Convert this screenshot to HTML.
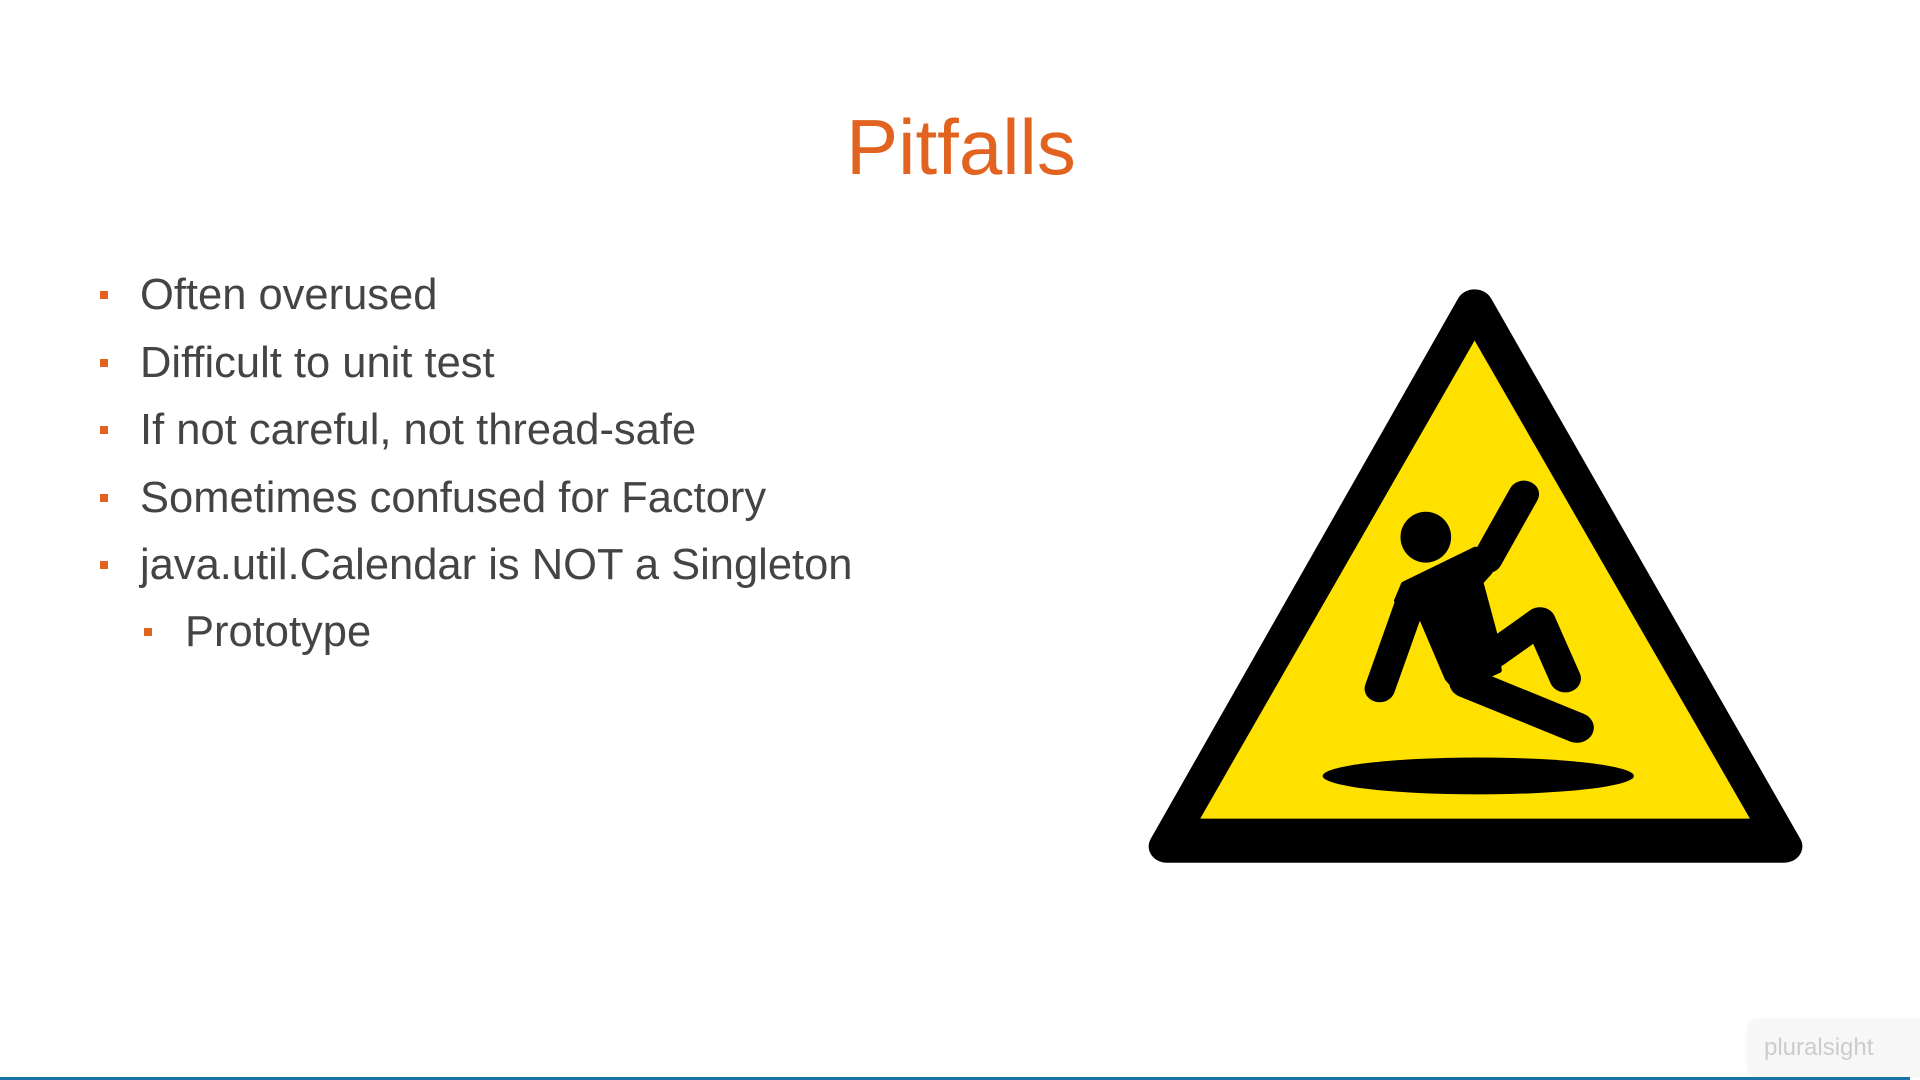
<!DOCTYPE html>
<html><head><meta charset="utf-8"><style>
html,body{margin:0;padding:0;width:1920px;height:1080px;overflow:hidden;background:#fff;font-family:"Liberation Sans",sans-serif}
.title{position:absolute;left:0;width:1922px;top:102px;text-align:center;font-size:78px;color:#E2621F}
.li{position:absolute;left:140px;font-size:43.5px;color:#444;white-space:nowrap}
.b{position:absolute;width:8px;height:8px;background:#E2621F}
</style></head><body>
<div class="title">Pitfalls</div>
<div>
<div class="b" style="left:100px;top:291px"></div>
<div class="li" style="top:271px">Often overused</div>
<div class="b" style="left:100px;top:359px"></div>
<div class="li" style="top:339px">Difficult to unit test</div>
<div class="b" style="left:100px;top:426px"></div>
<div class="li" style="top:406px">If not careful, not thread-safe</div>
<div class="b" style="left:100px;top:494px"></div>
<div class="li" style="top:474px">Sometimes confused for Factory</div>
<div class="b" style="left:100px;top:561px"></div>
<div class="li" style="top:541px">java.util.Calendar is NOT a Singleton</div>
<div class="b" style="left:144px;top:628px"></div>
<div class="li" style="left:185px;top:608px">Prototype</div>
</div>
<svg width="1920" height="1080" style="position:absolute;left:0;top:0">
<g transform="translate(1098,248.4) scale(0.4604,0.4096)">
<polygon points="818,140 150,1460 1490,1460" fill="#000" stroke="#000" stroke-width="80" stroke-linejoin="round"/>
<polygon points="818,225 222,1392 1416,1392" fill="#FFE100"/>
<g fill="#000" stroke="#000" stroke-linecap="round" stroke-linejoin="round">
<ellipse cx="712" cy="705" rx="55" ry="62" stroke="none"/>
<line x1="845" y1="760" x2="925" y2="600" stroke-width="66"/>
<polygon points="665,820 820,735 850,790 830,815 860,940 870,1030 780,1075 760,1050 705,905 650,860" stroke-width="14"/>
<line x1="612" y1="1075" x2="680" y2="860" stroke-width="66"/>
<line x1="800" y1="1060" x2="1040" y2="1170" stroke-width="74"/>
<polyline points="860,990 960,910 1015,1050" fill="none" stroke-width="68"/>
</g>
<ellipse cx="826" cy="1288" rx="338" ry="45" fill="#000"/>
</g>
</svg>
<div style="position:absolute;left:1748px;top:1020px;width:180px;height:56px;border-radius:8px;background:#f7f7f7;box-shadow:0 0 4px #eee;color:#ccc;font-size:24px;line-height:56px;padding-left:16px;box-sizing:border-box">pluralsight</div>
<div style="position:absolute;left:0;top:1077px;width:1910px;height:3px;background:#1a73a8"></div>
</body></html>
